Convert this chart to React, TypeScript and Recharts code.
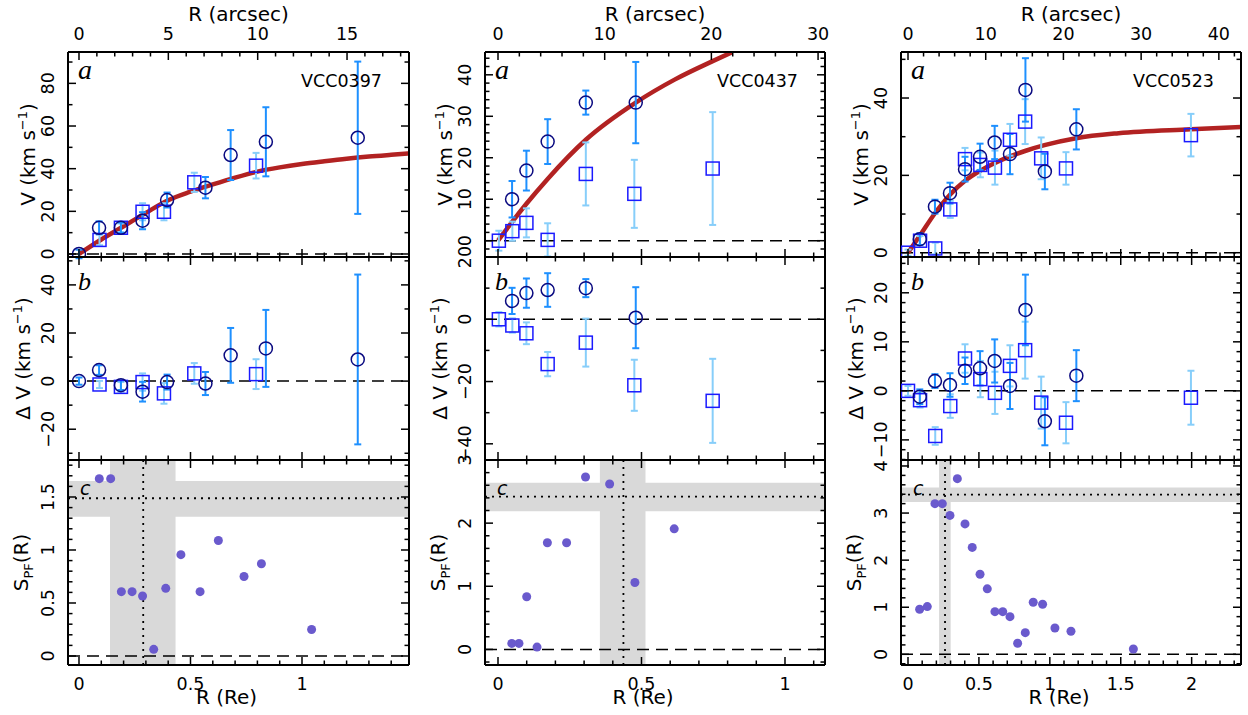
import React from "react";
import {
  ComposedChart,
  Scatter,
  Line,
  XAxis,
  YAxis,
  ErrorBar,
  ReferenceLine,
  ReferenceArea,
} from "recharts";

// [R (Re), V, err]
const vcc0397VelCirc = [[0, 0, 2], [0.09, 12.3, 3], [0.188, 12.3, 2.5], [0.285, 15.6, 4], [0.395, 25.3, 3.5], [0.567, 31.1, 5], [0.68, 46.4, 11.7], [0.838, 52.6, 16.2], [1.25, 54.5, 35.7]];
const vcc0397VelSq = [[0.092, 6.6, 2.5], [0.188, 12.3, 2], [0.285, 19.8, 4], [0.381, 19.8, 4], [0.517, 33.6, 4.5], [0.794, 41.4, 6]];
const vcc0397Curve = [[0, 0], [0.1, 6.8], [0.2, 13], [0.3, 19.3], [0.4, 25.2], [0.5, 29.2], [0.6, 32.6], [0.7, 35.8], [0.8, 38.6], [0.9, 40.6], [1.0, 42.2], [1.1, 43.5], [1.2, 44.7], [1.3, 45.7], [1.4, 46.5], [1.48, 47.1]];
const vcc0397DvCirc = [[0, 0, 1.5], [0.09, 4.6, 2], [0.188, -1.7, 2], [0.285, -4.4, 4.1], [0.395, -0.4, 3.1], [0.567, -1.0, 4.8], [0.68, 10.7, 11.4], [0.838, 13.6, 16], [1.25, 9.0, 35.3]];
const vcc0397DvSq = [[0.092, -1.4, 1.5], [0.188, -2.4, 2], [0.285, -0.4, 3.6], [0.381, -5.1, 4.3], [0.517, 3.2, 4.3], [0.794, 2.9, 6.2]];
const vcc0397Spf = [[0.091, 1.673], [0.142, 1.673], [0.19, 0.607], [0.238, 0.607], [0.285, 0.566], [0.335, 0.063], [0.389, 0.638], [0.457, 0.956], [0.543, 0.607], [0.625, 1.09], [0.74, 0.75], [0.818, 0.87], [1.043, 0.25]];
const vcc0397Bands = { r: [0.139, 0.433], rMid: 0.288, s: [1.314, 1.651], sMid: 1.488 };

const vcc0437VelCirc = [[0.049, 10.0, 4.4], [0.099, 16.9, 4.8], [0.173, 23.9, 5.4], [0.306, 33.3, 2.9], [0.48, 33.3, 9.8]];
const vcc0437VelSq = [[0.003, 0, 2.4], [0.05, 2.3, 2.3], [0.099, 4.3, 3.5], [0.173, 0.2, 4], [0.306, 16.1, 7.6], [0.475, 11.3, 8.2], [0.748, 17.4, 13.6]];
const vcc0437Curve = [[0, 0], [0.05, 4.6], [0.099, 8.9], [0.173, 14.9], [0.307, 24.4], [0.48, 33.3], [0.617, 38.9], [0.748, 43.3], [0.814, 45.4]];
const vcc0437DvCirc = [[0.049, 5.9, 4.2], [0.099, 8.4, 4.7], [0.173, 9.4, 5.4], [0.306, 10.0, 2.9], [0.48, 0.5, 9.8]];
const vcc0437DvSq = [[0.003, 0, 2.3], [0.05, -2.0, 2.3], [0.099, -4.5, 3.5], [0.173, -14.4, 3.9], [0.306, -7.5, 7.7], [0.475, -21.2, 8.2], [0.748, -26.2, 13.5]];
const vcc0437Spf = [[0.048, 0.095], [0.073, 0.095], [0.1, 0.834], [0.136, 0.037], [0.172, 1.69], [0.239, 1.69], [0.305, 2.73], [0.389, 2.62], [0.477, 1.06], [0.614, 1.91]];
const vcc0437Bands = { r: [0.355, 0.514], rMid: 0.437, s: [2.187, 2.641], sMid: 2.42 };

const vcc0523VelCirc = [[0.083, 3.5, 1.5], [0.19, 11.9, 1.8], [0.296, 15.4, 2.7], [0.402, 21.6, 3.2], [0.508, 24.8, 3.4], [0.611, 28.5, 4.3], [0.719, 25.5, 5.2], [0.828, 42.1, 8.2], [0.965, 21.0, 4.6], [1.187, 31.9, 5.2]];
const vcc0523VelSq = [[0, 0, 0.8], [0.085, 3.1, 1.2], [0.192, 1.1, 1.5], [0.298, 11.2, 2.2], [0.402, 24.2, 2.9], [0.51, 22.7, 3.2], [0.613, 22.0, 4.4], [0.719, 29.2, 4.1], [0.826, 33.9, 5.8], [0.939, 24.4, 5.4], [1.114, 21.8, 4.2], [1.995, 30.4, 5.5]];
const vcc0523Curve = [[0, 0], [0.085, 4.5], [0.19, 10.2], [0.296, 15.0], [0.402, 18.6], [0.508, 21.2], [0.613, 23.2], [0.719, 24.9], [0.825, 26.3], [0.962, 27.8], [1.185, 29.6], [1.484, 30.9], [1.994, 31.9], [2.348, 32.5]];
const vcc0523DvCirc = [[0.083, -1.2, 1.5], [0.19, 2.0, 1.4], [0.296, 1.2, 2.4], [0.402, 4.1, 2.7], [0.508, 4.6, 3.5], [0.611, 6.1, 4.4], [0.719, 1.0, 4.7], [0.828, 16.5, 7.2], [0.965, -6.2, 4.9], [1.187, 3.1, 5.2]];
const vcc0523DvSq = [[0, 0, 1], [0.085, -1.9, 1.5], [0.192, -9.2, 1.8], [0.298, -3.1, 2.4], [0.402, 6.6, 2.9], [0.51, 2.4, 3.7], [0.613, -0.4, 4.3], [0.719, 5.1, 4.2], [0.826, 8.3, 5.8], [0.939, -2.4, 5.3], [1.114, -6.5, 4.2], [1.995, -1.4, 5.5]];
const vcc0523Spf = [[0.082, 0.957], [0.136, 1.013], [0.19, 3.2], [0.242, 3.2], [0.296, 2.95], [0.348, 3.73], [0.402, 2.77], [0.453, 2.27], [0.508, 1.7], [0.559, 1.39], [0.613, 0.906], [0.668, 0.906], [0.719, 0.8], [0.773, 0.234], [0.827, 0.46], [0.883, 1.106], [0.949, 1.064], [1.036, 0.56], [1.149, 0.489], [1.589, 0.113]];
const vcc0523Bands = { r: [0.219, 0.301], rMid: 0.261, s: [3.234, 3.545], sMid: 3.39 };

const galaxies = ["VCC0397", "VCC0437", "VCC0523"];

// tick labels
const reLabels = [[0, 0.5, 1], [0, 0.5, 1], [0, 0.5, 1, 1.5, 2]];
const asecLabels = [[0, 5, 10, 15], [0, 10, 20, 30], [0, 10, 20, 30, 40]];
const velLabels = [[0, 20, 40, 60, 80], [0, 10, 20, 30, 40], [0, 20, 40]];
const dvLabels = [[-20, 0, 20, 40], [-40, -20, 0, 20], [-10, 0, 10, 20]];
const spfLabels = [[0, 0.5, 1, 1.5], [0, 1, 2, 3], [0, 1, 2, 3, 4]];

const steps = (a: number, b: number, d: number) => {
  const out: number[] = [];
  for (let v = a; v <= b + 1e-9; v += d) out.push(Math.round(v * 1000) / 1000);
  return out;
};

const COLS = [
  { x0: 68, x1: 409, re: [-0.0493, 1.4798], asec: 12.48, reTicks: steps(0, 1.4, 0.1), asecTicks: steps(0, 18, 1) },
  { x0: 485, x1: 825, re: [-0.0453, 1.1394], asec: 26.9, reTicks: steps(0, 1.1, 0.1), asecTicks: steps(0, 30, 2) },
  { x0: 901, x1: 1241, re: [-0.0494, 2.348], asec: 18.25, reTicks: steps(0, 2.3, 0.1), asecTicks: steps(0, 42, 2) },
];
const ROWS = [
  { y0: 52, y1: 257 },
  { y0: 257, y1: 460 },
  { y0: 460, y1: 665 },
];

const FONT = "'DejaVu Sans', sans-serif";
const tickFont = { fontFamily: FONT, fontSize: 17.5, fill: "#000" };
const titleFont = { fontFamily: FONT, fontSize: 20, fill: "#000" };
const PAD = 32;

const toPts = (rows: number[][]) => rows.map(([r, v, e]) => ({ r, v, e }));
const fmt = (v: number) => String(v).replace("-", "\u2212");
const isIn = (list: number[], v: number) => list.some((m) => Math.abs(m - v) < 1e-6);

type Side = "bottom" | "top" | "left" | "right";

function tickRenderer(side: Side, majors: number[], showLabels: boolean) {
  return (p: any) => {
    const { x, y } = p;
    const v = p.payload.value;
    const major = isIn(majors, v);
    const len = major ? 8 : 4.5;
    const label = showLabels && major ? fmt(v) : null;
    const st = { stroke: "#000", strokeWidth: 1.5 };
    if (side === "bottom")
      return (
        <g>
          <line x1={x} y1={y} x2={x} y2={y - len} {...st} />
          {label && <text x={x} y={y + 25} textAnchor="middle" style={tickFont}>{label}</text>}
        </g>
      );
    if (side === "top")
      return (
        <g>
          <line x1={x} y1={y} x2={x} y2={y + len} {...st} />
          {label && <text x={x} y={y - 12} textAnchor="middle" style={tickFont}>{label}</text>}
        </g>
      );
    if (side === "left")
      return (
        <g>
          <line x1={x} y1={y} x2={x + len} y2={y} {...st} />
          {label && (
            <text x={x - 14} y={y} textAnchor="middle" transform={`rotate(-90 ${x - 14} ${y})`} style={tickFont}>
              {label}
            </text>
          )}
        </g>
      );
    return (
      <g>
        <line x1={x} y1={y} x2={x - len} y2={y} {...st} />
      </g>
    );
  };
}

const openCircle = (p: any) => <circle cx={p.cx} cy={p.cy} r={6.5} fill="none" stroke="#0a0a80" strokeWidth={1.5} />;
const openSquare = (p: any) => <rect x={p.cx - 6.5} y={p.cy - 6.5} width={13} height={13} fill="none" stroke="#1a1aff" strokeWidth={1.5} />;
const filledDot = (p: any) => <circle cx={p.cx} cy={p.cy} r={4.5} fill="#6a5acd" />;
const noShape = () => <g />;

const frameLine = { stroke: "#000", strokeWidth: 2 };
const ids = { xAxisId: "re", yAxisId: "l" };

function Panel({ ci, ri, yDomain, yTicks, yMajors, children }: any) {
  const col = COLS[ci];
  const row = ROWS[ri];
  const w = col.x1 - col.x0;
  const h = row.y1 - row.y0;
  const isTop = ri === 0;
  const topDomain = isTop ? [col.re[0] * col.asec, col.re[1] * col.asec] : col.re;
  const topTicks = isTop ? col.asecTicks : col.reTicks;
  const topMajors = isTop ? asecLabels[ci] : reLabels[ci];
  // keeps the top and right axes tied to a series so they get their scales
  const anchor = [
    { r: topDomain[0], v: yDomain[0] },
    { r: topDomain[1], v: yDomain[1] },
  ];
  return (
    <div style={{ position: "absolute", left: col.x0 - PAD, top: row.y0 - PAD }}>
      <ComposedChart width={w + 2 * PAD} height={h + 2 * PAD} margin={{ top: 0, right: 0, bottom: 0, left: 0 }}>
        <XAxis xAxisId="re" dataKey="r" type="number" orientation="bottom" domain={col.re} allowDataOverflow
          ticks={col.reTicks} interval={0} height={PAD} tickSize={0} tickMargin={0} tickLine={false}
          axisLine={frameLine} tick={tickRenderer("bottom", reLabels[ci], ri === 2)} />
        <XAxis xAxisId="top" dataKey="r" type="number" orientation="top" domain={topDomain} allowDataOverflow
          ticks={topTicks} interval={0} height={PAD} tickSize={0} tickMargin={0} tickLine={false}
          axisLine={frameLine} tick={tickRenderer("top", topMajors, isTop)} />
        <YAxis yAxisId="l" dataKey="v" type="number" orientation="left" domain={yDomain} allowDataOverflow
          ticks={yTicks} interval={0} width={PAD} tickSize={0} tickMargin={0} tickLine={false}
          axisLine={frameLine} tick={tickRenderer("left", yMajors, true)} />
        <YAxis yAxisId="rt" dataKey="v" type="number" orientation="right" domain={yDomain} allowDataOverflow
          ticks={yTicks} interval={0} width={PAD} tickSize={0} tickMargin={0} tickLine={false}
          axisLine={frameLine} tick={tickRenderer("right", yMajors, false)} />
        <Scatter xAxisId="top" yAxisId="rt" data={anchor} shape={noShape} isAnimationActive={false} />
        {children}
      </ComposedChart>
    </div>
  );
}

function velSeries(curve: number[][], sq: number[][], circ: number[][]) {
  return [
    <ReferenceLine key="z" {...ids} y={0} stroke="#000" strokeWidth={1.5} strokeDasharray="12 7" />,
    <Line key="m" {...ids} data={curve.map(([r, v]) => ({ r, v }))} dataKey="v" type="monotone"
      stroke="#b22222" strokeWidth={4.5} dot={false} isAnimationActive={false} />,
    <Scatter key="s" {...ids} data={toPts(sq)} shape={openSquare} isAnimationActive={false}>
      <ErrorBar dataKey="e" direction="y" width={3.5} stroke="#87cefa" strokeWidth={2} />
    </Scatter>,
    <Scatter key="c" {...ids} data={toPts(circ)} shape={openCircle} isAnimationActive={false}>
      <ErrorBar dataKey="e" direction="y" width={3.5} stroke="#1e90ff" strokeWidth={2} />
    </Scatter>,
  ];
}

function dvSeries(sq: number[][], circ: number[][]) {
  return [
    <ReferenceLine key="z" {...ids} y={0} stroke="#000" strokeWidth={1.5} strokeDasharray="12 7" />,
    <Scatter key="s" {...ids} data={toPts(sq)} shape={openSquare} isAnimationActive={false}>
      <ErrorBar dataKey="e" direction="y" width={3.5} stroke="#87cefa" strokeWidth={2} />
    </Scatter>,
    <Scatter key="c" {...ids} data={toPts(circ)} shape={openCircle} isAnimationActive={false}>
      <ErrorBar dataKey="e" direction="y" width={3.5} stroke="#1e90ff" strokeWidth={2} />
    </Scatter>,
  ];
}

function spfSeries(pts: number[][], b: any) {
  return [
    <ReferenceArea key="bx" {...ids} x1={b.r[0]} x2={b.r[1]} fill="#d9d9d9" fillOpacity={1} stroke="none" />,
    <ReferenceArea key="by" {...ids} y1={b.s[0]} y2={b.s[1]} fill="#d9d9d9" fillOpacity={1} stroke="none" />,
    <ReferenceLine key="z" {...ids} y={0} stroke="#000" strokeWidth={1.5} strokeDasharray="12 7" />,
    <ReferenceLine key="dx" {...ids} x={b.rMid} stroke="#000" strokeWidth={1.8} strokeDasharray="2 5" />,
    <ReferenceLine key="dy" {...ids} y={b.sMid} stroke="#000" strokeWidth={1.8} strokeDasharray="2 5" />,
    <Scatter key="p" {...ids} data={pts.map(([r, v]) => ({ r, v }))} shape={filledDot} isAnimationActive={false} />,
  ];
}

function YTitle({ x, y, kind }: { x: number; y: number; kind: string }) {
  return (
    <text x={x} y={y} textAnchor="middle" transform={`rotate(-90 ${x} ${y})`} style={titleFont}>
      {kind === "spf" ? (
        <>
          S<tspan dy={5} fontSize={13}>PF</tspan>
          <tspan dy={-5}>(R)</tspan>
        </>
      ) : (
        <>
          {kind === "dv" ? "\u0394 V (km s" : "V (km s"}
          <tspan dy={-8} fontSize={13}>{"\u22121"}</tspan>
          <tspan dy={8}>)</tspan>
        </>
      )}
    </text>
  );
}

const titleOffsets = [33, 38, 40];
const kinds = ["v", "dv", "spf"];
const letters = ["a", "b", "c"];

export default function App() {
  return (
    <div style={{ position: "absolute", left: 0, top: 0, width: 1248, height: 715, background: "#fff", overflow: "hidden" }}>
      <Panel ci={0} ri={0} yDomain={[-1.41, 94.7]} yTicks={steps(0, 90, 10)} yMajors={velLabels[0]}>
        {velSeries(vcc0397Curve, vcc0397VelSq, vcc0397VelCirc)}
      </Panel>
      <Panel ci={0} ri={1} yDomain={[-32.8, 51.6]} yTicks={steps(-30, 50, 10)} yMajors={dvLabels[0]}>
        {dvSeries(vcc0397DvSq, vcc0397DvCirc)}
      </Panel>
      <Panel ci={0} ri={2} yDomain={[-0.085, 1.849]} yTicks={steps(0, 1.8, 0.1)} yMajors={spfLabels[0]}>
        {spfSeries(vcc0397Spf, vcc0397Bands)}
      </Panel>

      <Panel ci={1} ri={0} yDomain={[-3.93, 45.5]} yTicks={steps(-2, 44, 2)} yMajors={velLabels[1]}>
        {velSeries(vcc0437Curve, vcc0437VelSq, vcc0437VelCirc)}
      </Panel>
      <Panel ci={1} ri={1} yDomain={[-45.2, 20]} yTicks={steps(-40, 20, 10)} yMajors={dvLabels[1]}>
        {dvSeries(vcc0437DvSq, vcc0437DvCirc)}
      </Panel>
      <Panel ci={1} ri={2} yDomain={[-0.247, 3.0]} yTicks={steps(-0.2, 3, 0.2)} yMajors={spfLabels[1]}>
        {spfSeries(vcc0437Spf, vcc0437Bands)}
      </Panel>

      <Panel ci={2} ri={0} yDomain={[-1.11, 51.9]} yTicks={steps(0, 50, 10)} yMajors={velLabels[2]}>
        {velSeries(vcc0523Curve, vcc0523VelSq, vcc0523VelCirc)}
      </Panel>
      <Panel ci={2} ri={1} yDomain={[-14.1, 27.3]} yTicks={steps(-14, 26, 2)} yMajors={dvLabels[2]}>
        {dvSeries(vcc0523DvSq, vcc0523DvCirc)}
      </Panel>
      <Panel ci={2} ri={2} yDomain={[-0.227, 4.127]} yTicks={steps(-0.2, 4, 0.2)} yMajors={spfLabels[2]}>
        {spfSeries(vcc0523Spf, vcc0523Bands)}
      </Panel>

      <svg width={1248} height={715} style={{ position: "absolute", left: 0, top: 0, pointerEvents: "none" }}>
        {COLS.map((c, i) => (
          <g key={i}>
            <text x={(c.x0 + c.x1) / 2} y={21} textAnchor="middle" style={titleFont}>R (arcsec)</text>
            <text x={(c.x0 + c.x1) / 2 - 12} y={704} textAnchor="middle" style={titleFont}>R (Re)</text>
            <text x={c.x1 - 27} y={ROWS[0].y0 + 34.5} textAnchor="end" style={{ ...tickFont, fontSize: 17.5 }}>{galaxies[i]}</text>
            {ROWS.map((r, j) => (
              <g key={j}>
                <YTitle x={c.x0 - titleOffsets[j]} y={(r.y0 + r.y1) / 2} kind={kinds[j]} />
                <text x={c.x0 + (j === 2 ? 12 : 10)} y={r.y0 + [27, 33, 35][j]}
                  style={j === 2
                    ? { fontFamily: FONT, fontStyle: "italic", fontSize: 19, fill: "#000" }
                    : { fontFamily: "'Liberation Serif', serif", fontStyle: "italic", fontSize: j === 0 ? 28 : 26, fill: "#000" }}>
                  {letters[j]}
                </text>
              </g>
            ))}
          </g>
        ))}
      </svg>
    </div>
  );
}
